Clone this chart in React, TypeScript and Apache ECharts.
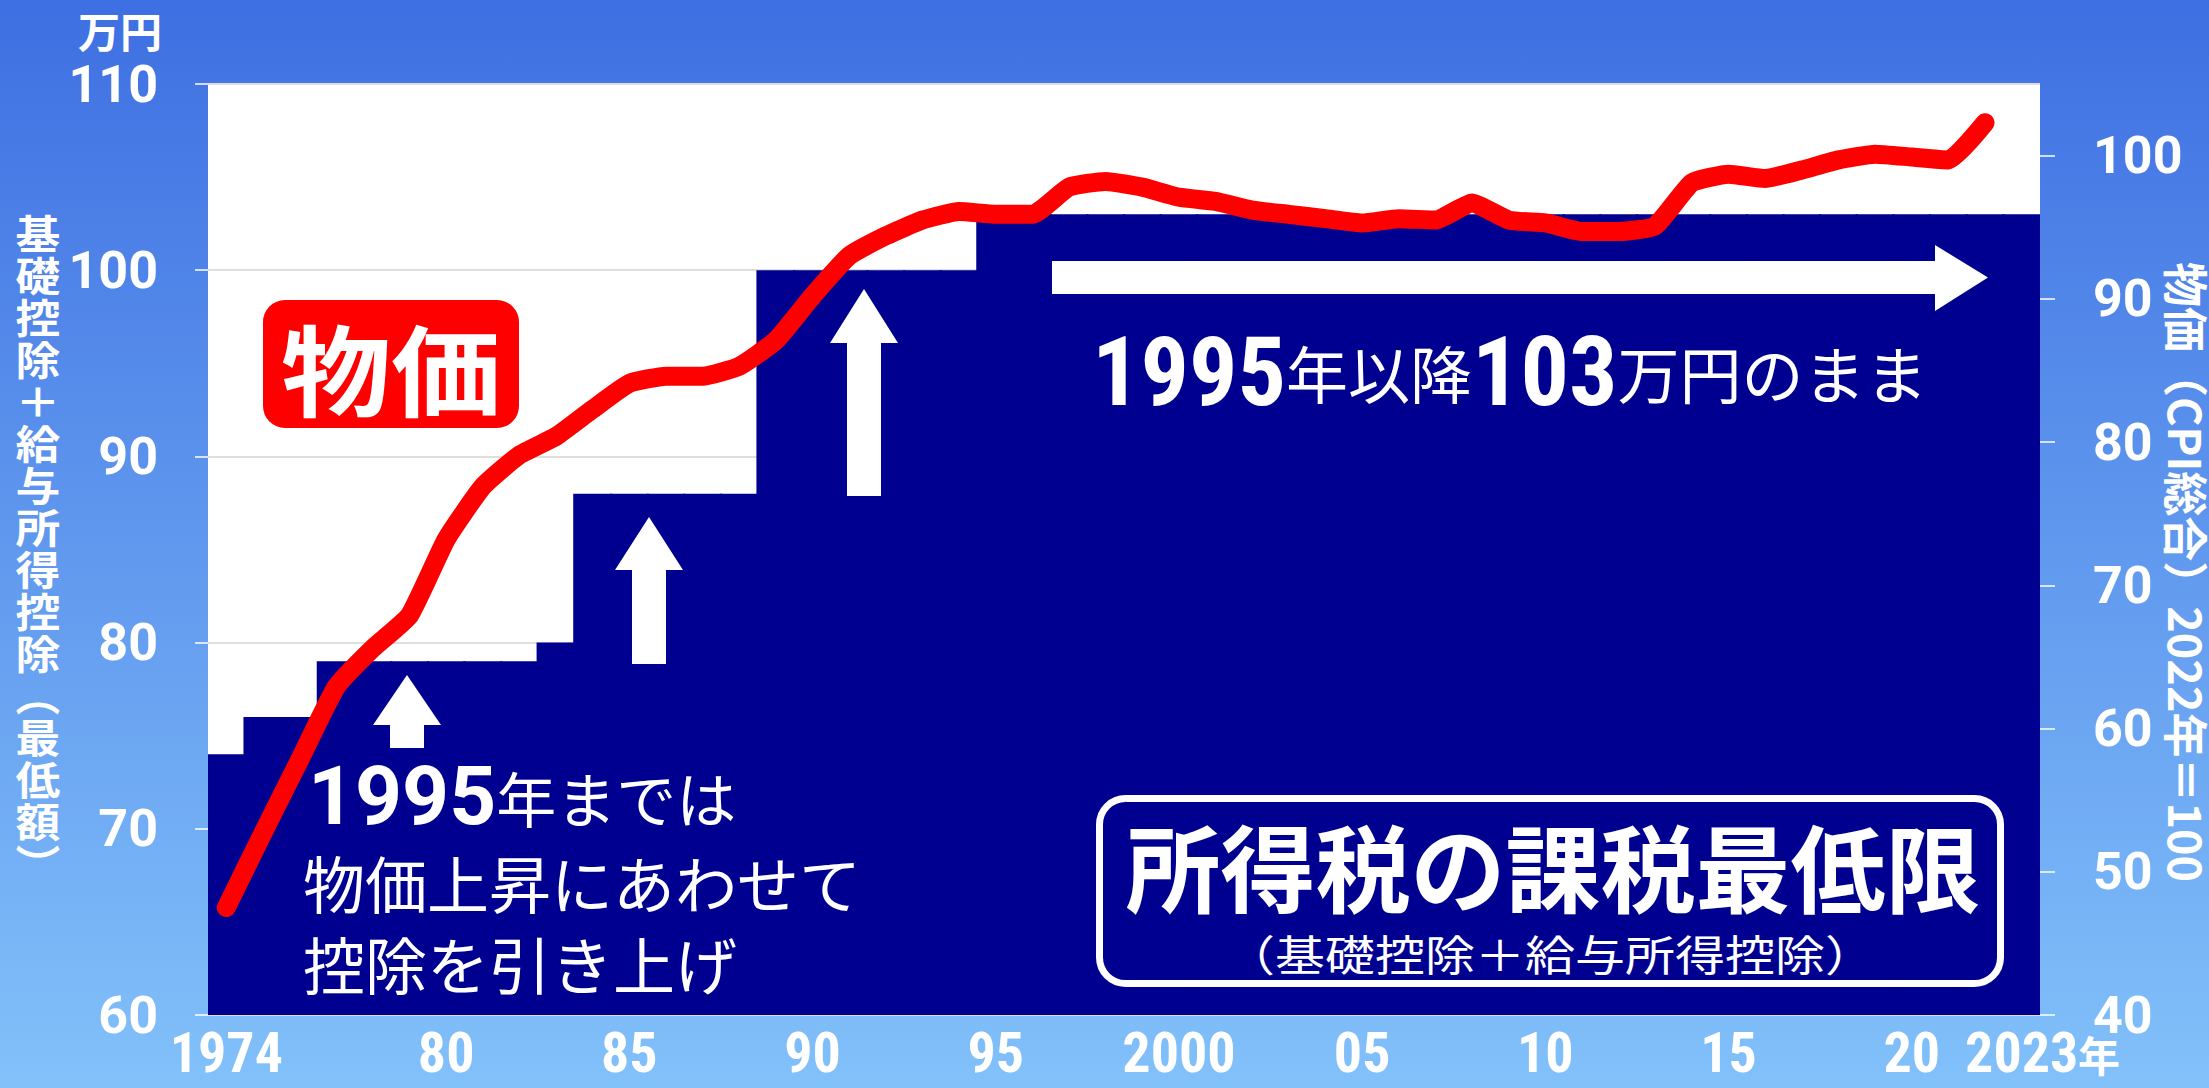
import React, { useEffect, useRef } from "react";
import * as echarts from "echarts";

// ---- data ----
const years = [
  "1974", "1975", "1976", "1977", "1978", "1979", "1980", "1981", "1982", "1983",
  "1984", "1985", "1986", "1987", "1988", "1989", "1990", "1991", "1992", "1993",
  "1994", "1995", "1996", "1997", "1998", "1999", "2000", "2001", "2002", "2003",
  "2004", "2005", "2006", "2007", "2008", "2009", "2010", "2011", "2012", "2013",
  "2014", "2015", "2016", "2017", "2018", "2019", "2020", "2021", "2022", "2023",
];

// 課税最低限（基礎控除＋給与所得控除）万円
const deduction = [
  74, 76, 76, 79, 79, 79, 79, 79, 79, 80,
  88, 88, 88, 88, 88, 100, 100, 100, 100, 100,
  100, 103, 103, 103, 103, 103, 103, 103, 103, 103,
  103, 103, 103, 103, 103, 103, 103, 103, 103, 103,
  103, 103, 103, 103, 103, 103, 103, 103, 103, 103,
];

// 物価（CPI総合） 1974-2022
const cpi = [
  47.5, 52.7, 57.8, 62.9, 65.6, 67.9, 73.2, 76.9, 79.1, 80.4,
  82.3, 84.1, 84.6, 84.6, 85.3, 87.1, 90.2, 93.0, 94.4, 95.5,
  96.1, 95.9, 95.9, 97.8, 98.2, 97.8, 97.1, 96.8, 96.2, 95.9,
  95.6, 95.3, 95.6, 95.5, 96.7, 95.5, 95.3, 94.7, 94.7, 95.1,
  98.1, 98.7, 98.4, 99.0, 99.7, 100.1, 99.9, 99.7, 102.3,
];

const xTickYears = ["1974", "1980", "1985", "1990", "1995", "2000", "2005", "2010", "2015", "2020", "2023"];
const xTickTexts = ["1974", "80", "85", "90", "95", "2000", "05", "10", "15", "20", "2023"];

const NAVY = "#000090";
const CJK = '"Noto Sans CJK JP", "Noto Sans CJK SC", sans-serif';
const NUM = 'Roboto, "Liberation Sans", sans-serif';
const NARROW = '"Liberation Sans Narrow", "Roboto Condensed", Roboto, sans-serif';

export default function App() {
  const ref = useRef<HTMLDivElement>(null);

  useEffect(() => {
    const chart = echarts.init(ref.current as HTMLDivElement, null, { renderer: "svg" });

    const labelMap: Record<string, string> = {};
    xTickYears.forEach((y, i) => (labelMap[y] = xTickTexts[i]));

    const upArrow = (tipX: number, tipY: number, headY: number, halfHead: number, halfShaft: number, bottom: number) => ({
      type: "polygon",
      z: 100,
      shape: {
        points: [
          [tipX, tipY],
          [tipX + halfHead, headY],
          [tipX + halfShaft, headY],
          [tipX + halfShaft, bottom],
          [tipX - halfShaft, bottom],
          [tipX - halfShaft, headY],
          [tipX - halfHead, headY],
        ],
      },
      style: { fill: "#fff" },
    });

    const leftTitleChars = ["基", "礎", "控", "除", "＋", "給", "与", "所", "得", "控", "除", "︵", "最", "低", "額", "︶"];
    const leftTitle = leftTitleChars.map((ch, i) => ({
      type: "text",
      z: 101,
      x: 38,
      y: 232 + i * 42,
      scaleX: 1.12,
      style: {
        text: ch,
        fill: "#fff",
        fontSize: 40,
        lineHeight: 40,
        fontWeight: "bold",
        fontFamily: CJK,
        align: "center",
        verticalAlign: "middle",
      },
    }));

    const option: any = {
      animation: false,
      backgroundColor: new echarts.graphic.LinearGradient(0, 0, 0, 1, [
        { offset: 0, color: "#3e6fe2" },
        { offset: 1, color: "#82c1fa" },
      ]),
      grid: {
        left: 208,
        right: 169,
        top: 84,
        bottom: 73,
        show: true,
        backgroundColor: "#ffffff",
        borderWidth: 0,
      },
      xAxis: {
        type: "category",
        data: years,
        boundaryGap: true,
        axisLine: { show: false },
        axisTick: { show: false },
        splitLine: { show: false },
        axisLabel: {
          interval: (_i: number, v: string) => labelMap[v] !== undefined,
          formatter: (v: string) => labelMap[v] ?? "",
          hideOverlap: false,
          color: "#fff",
          fontSize: 56,
          lineHeight: 48,
          fontWeight: "bold",
          fontFamily: NARROW,
          margin: 14,
        },
      },
      yAxis: [
        {
          type: "value",
          min: 60,
          max: 110,
          interval: 10,
          position: "left",
          axisLine: { show: false },
          axisTick: { show: true, length: 13, lineStyle: { color: "rgba(255,255,255,0.75)", width: 2 } },
          axisLabel: { color: "#fff", fontSize: 52, lineHeight: 44, fontWeight: "bold", fontFamily: NUM, margin: 50 },
          splitLine: { show: true, lineStyle: { color: "#dedede", width: 2 } },
        },
        {
          type: "value",
          min: 40,
          max: 105,
          interval: 10,
          position: "right",
          axisLine: { show: false },
          axisTick: { show: true, length: 15, lineStyle: { color: "rgba(255,255,255,0.75)", width: 2 } },
          axisLabel: {
            color: "#fff",
            fontSize: 52,
            lineHeight: 40,
            fontWeight: "bold",
            fontFamily: NUM,
            margin: 53,
            showMaxLabel: false,
            formatter: (v: number) => (v > 100 ? "" : String(v)),
          },
          splitLine: { show: false },
        },
      ],
      series: [
        {
          type: "bar",
          data: deduction,
          yAxisIndex: 0,
          barWidth: 39,
          itemStyle: { color: NAVY },
          silent: true,
          z: 2,
        },
        {
          type: "line",
          data: cpi,
          yAxisIndex: 1,
          symbol: "none",
          showSymbol: false,
          smooth: 0.15,
          lineStyle: { color: "#ff0000", width: 19, cap: "round", join: "round" },
          silent: true,
          z: 3,
        },
      ],
      graphic: [
        // 物価 tag
        { type: "rect", z: 100, shape: { x: 263, y: 300, width: 256, height: 128, r: 22 }, style: { fill: "#ff0000" } },
        {
          type: "text", z: 101, x: 391, y: 366, scaleY: 0.9,
          style: { text: "物価", fill: "#fff", fontSize: 110, lineHeight: 110, fontWeight: "bold", fontFamily: CJK, align: "center", verticalAlign: "middle" },
        },
        // arrows
        upArrow(407, 675, 725, 34, 17, 748),
        upArrow(649, 517, 570, 34, 17, 664),
        upArrow(864, 289, 343, 34, 17, 496),
        {
          type: "polygon", z: 100,
          shape: { points: [[1052, 261], [1935, 261], [1935, 245], [1988, 277.5], [1935, 311], [1935, 294], [1052, 294]] },
          style: { fill: "#fff" },
        },
        // 1995年以降103万円のまま
        {
          type: "text", z: 101, x: 1092, y: 372,
          style: {
            text: "{d|1995}{j|年以降}{d|103}{j|万円のまま}",
            fill: "#fff",
            verticalAlign: "middle",
            rich: {
              d: { fontSize: 96, lineHeight: 90, fontWeight: "bold", fontFamily: NARROW, fill: "#fff" },
              j: { fontSize: 62, lineHeight: 90, fontFamily: CJK, fill: "#fff" },
            },
          },
        },
        // 1995年までは ...
        {
          type: "text", z: 101, x: 308, y: 796,
          style: {
            text: "{d|1995}{j|年までは}",
            fill: "#fff",
            verticalAlign: "middle",
            rich: {
              d: { fontSize: 82, lineHeight: 70, fontWeight: "bold", fontFamily: NUM, fill: "#fff" },
              j: { fontSize: 60, lineHeight: 70, fontFamily: CJK, fill: "#fff" },
            },
          },
        },
        {
          type: "text", z: 101, x: 303, y: 882,
          style: { text: "物価上昇にあわせて", fill: "#fff", fontSize: 62, lineHeight: 64, fontFamily: CJK, verticalAlign: "middle" },
        },
        {
          type: "text", z: 101, x: 303, y: 963,
          style: { text: "控除を引き上げ", fill: "#fff", fontSize: 62, lineHeight: 64, fontFamily: CJK, verticalAlign: "middle" },
        },
        // 所得税の課税最低限 box
        {
          type: "rect", z: 100,
          shape: { x: 1099.5, y: 798.5, width: 901, height: 185, r: 26 },
          style: { fill: NAVY, stroke: "#fff", lineWidth: 7 },
        },
        {
          type: "text", z: 101, x: 1553, y: 864,
          style: { text: "所得税の課税最低限", fill: "#fff", fontSize: 95, lineHeight: 95, fontWeight: "bold", fontFamily: CJK, align: "center", verticalAlign: "middle" },
        },
        {
          type: "text", z: 101, x: 1550, y: 952, scaleY: 0.85,
          style: { text: "（基礎控除＋給与所得控除）", fill: "#fff", fontSize: 50, lineHeight: 50, fontFamily: CJK, align: "center", verticalAlign: "middle" },
        },
        // x-axis unit after last tick label
        {
          type: "text", z: 101, x: 2078, y: 1053,
          style: { text: "年", fill: "#fff", fontSize: 42, lineHeight: 38, fontWeight: "bold", fontFamily: CJK, align: "left", verticalAlign: "middle" },
        },
        // axis titles
        {
          type: "text", z: 101, x: 162, y: 29,
          style: { text: "万円", fill: "#fff", fontSize: 42, lineHeight: 42, fontWeight: "bold", fontFamily: CJK, align: "right", verticalAlign: "middle" },
        },
        ...leftTitle,
        {
          type: "text", z: 101, x: 2187, y: 572, rotation: -Math.PI / 2,
          style: {
            text: "物価（CPI総合）2022年＝100",
            fill: "#fff", fontSize: 45, lineHeight: 45, fontWeight: "bold", fontFamily: CJK,
            align: "center", verticalAlign: "middle",
          },
        },
      ],
    };

    chart.setOption(option);
    return () => chart.dispose();
  }, []);

  return <div ref={ref} style={{ position: "fixed", left: 0, top: 0, width: 2209, height: 1088 }} />;
}
